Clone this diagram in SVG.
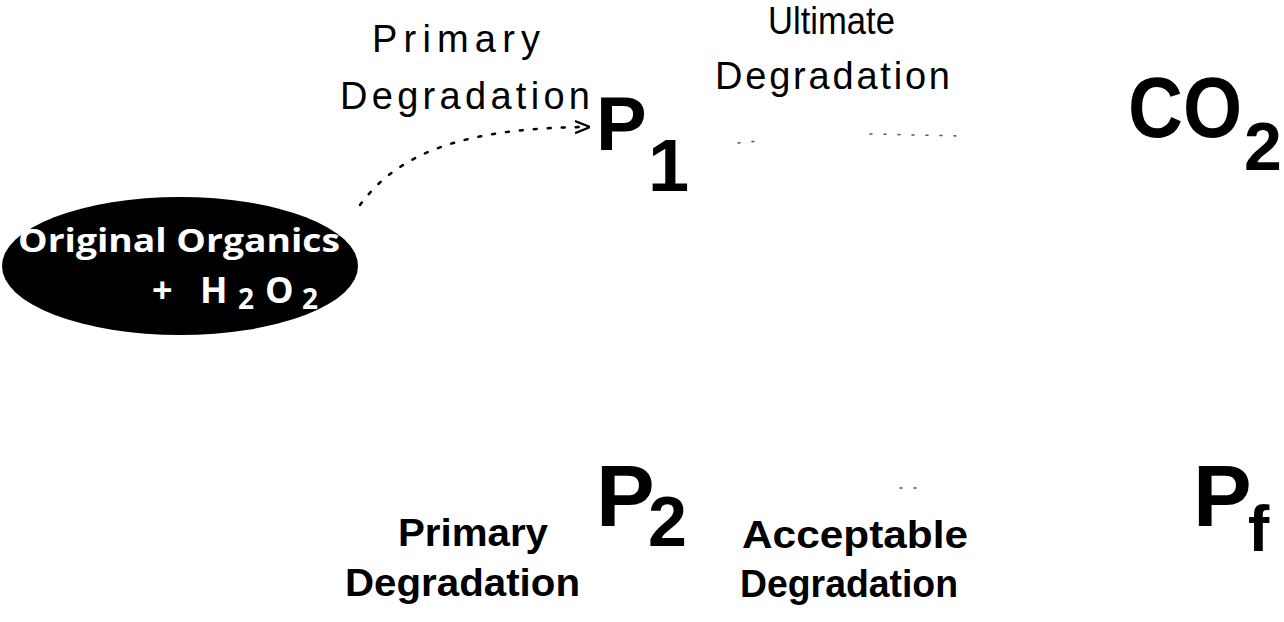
<svg xmlns="http://www.w3.org/2000/svg" width="1284" height="622" viewBox="0 0 1284 622">
<style>
.lt{font-family:"Liberation Sans",Arial,sans-serif;font-size:38px;fill:#000}
.lb{font-family:"Liberation Sans",Arial,sans-serif;font-weight:bold;font-size:38px;fill:#000}
.big{font-family:"Liberation Sans",Arial,sans-serif;font-weight:bold;fill:#000}
.ell{font-family:"Open Sans","Liberation Sans",sans-serif;font-weight:bold;fill:#fff}
.conn{fill:none;stroke:#000;stroke-width:2.5;stroke-dasharray:3 11;stroke-linecap:round}
.faint{fill:none;stroke:#555;stroke-width:1.5;stroke-dasharray:2 12;stroke-linecap:round}
</style>
<defs>
<marker id="ah" viewBox="0 0 10 10" refX="8" refY="5" markerWidth="6" markerHeight="6" orient="auto"><path d="M0,1 L10,5 L0,9" fill="none" stroke="#000" stroke-width="1.5"/></marker>
</defs>
<rect width="1284" height="622" fill="#fff"/>
<g id="connectors">
<path class="conn" d="M360,205 C400,150 470,128 587,127" marker-end="url(#ah)"/>
<path class="faint" d="M738,143 L760,141 M870,134 L960,136"/>
<path class="faint" d="M900,488 L925,488"/>
</g>
<g id="labels">
<text class="lt" x="372" y="52" textLength="168" lengthAdjust="spacing">Primary</text>
<text class="lt" x="340" y="109" textLength="250" lengthAdjust="spacing">Degradation</text>
<text class="lt" x="768" y="34" textLength="127" lengthAdjust="spacingAndGlyphs">Ultimate</text>
<text class="lt" x="715" y="89" textLength="235" lengthAdjust="spacing">Degradation</text>
<text class="lb" x="398" y="546" textLength="150" lengthAdjust="spacingAndGlyphs">Primary</text>
<text class="lb" x="345" y="596" textLength="235" lengthAdjust="spacingAndGlyphs">Degradation</text>
<text class="lb" x="742" y="548" textLength="226" lengthAdjust="spacingAndGlyphs">Acceptable</text>
<text class="lb" x="740" y="597" textLength="218" lengthAdjust="spacingAndGlyphs">Degradation</text>
</g>
<g id="node-organics">
<ellipse cx="180" cy="266" rx="178" ry="69" fill="#000"/>
<text class="ell" x="18" y="252" font-size="33" textLength="322" lengthAdjust="spacingAndGlyphs">Original Organics</text>
<text class="ell" y="303" font-size="36"><tspan x="152">+</tspan><tspan x="200">H</tspan><tspan x="238" dy="6" font-size="28">2</tspan><tspan x="265" dy="-6">O</tspan><tspan x="302" dy="6" font-size="28">2</tspan></text>
</g>
<g id="node-p1">
<text class="big" font-size="76"><tspan x="596" y="150">P</tspan><tspan x="648" y="191" font-size="74">1</tspan></text>
</g>
<g id="node-co2">
<text class="big" font-size="86"><tspan x="1128" y="137" textLength="114" lengthAdjust="spacingAndGlyphs">CO</tspan><tspan x="1244" y="170" font-size="68">2</tspan></text>
</g>
<g id="node-p2">
<text class="big" font-size="88"><tspan x="596" y="526">P</tspan><tspan x="648" y="546" font-size="70">2</tspan></text>
</g>
<g id="node-pf">
<text class="big" font-size="88"><tspan x="1193" y="526">P</tspan><tspan x="1248" y="551" font-size="64">f</tspan></text>
</g>
</svg>
